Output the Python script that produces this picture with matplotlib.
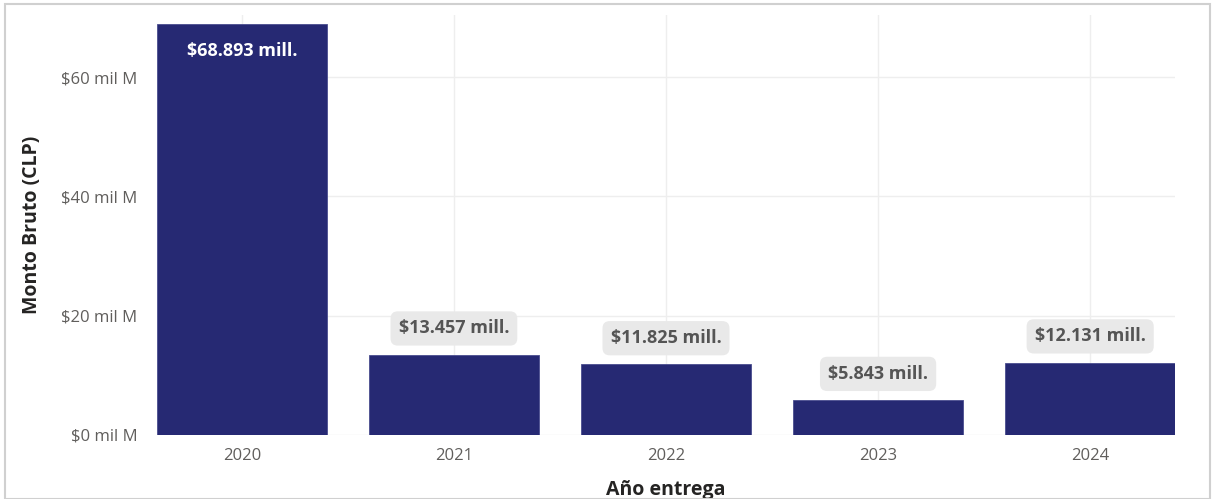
import matplotlib.pyplot as plt
from matplotlib.patches import Rectangle

# Datos
anios = ['2020', '2021', '2022', '2023', '2024']
montos = [68.893, 13.457, 11.825, 5.843, 12.131]  # miles de millones CLP
etiquetas = ['$68.893 mill.', '$13.457 mill.', '$11.825 mill.', '$5.843 mill.', '$12.131 mill.']
yticks = [0, 20, 40, 60]
ytick_labels = ['$0 mil M', '$20 mil M', '$40 mil M', '$60 mil M']

plt.rcParams['font.family'] = ['Open Sans', 'DejaVu Sans']

fig = plt.figure(figsize=(12.13, 4.99), dpi=100)
ax = fig.add_axes([157/1213, 1-435/499, (1175-157)/1213, (435-15)/499])

x = list(range(len(anios)))
ax.bar(x, montos, width=0.8, color='#262973', edgecolor='#4a4d8f', linewidth=0.6, zorder=3)

ax.set_xlim(-0.4, 4.4)
ax.set_ylim(0, 70.4)
ax.set_xticks(x)
ax.set_xticklabels(anios)
ax.set_yticks(yticks)
ax.set_yticklabels(ytick_labels)
ax.tick_params(axis='both', length=0, labelsize=12, colors='#605e5c')
ax.tick_params(axis='x', pad=9)
ax.tick_params(axis='y', pad=14)

# Grillas
ax.grid(True, color='#eeeeee', linewidth=1, zorder=0)
for s in ax.spines.values():
    s.set_visible(False)

ax.set_xlabel('Año entrega', fontsize=14, fontweight='bold', color='#252423', labelpad=12)
ax.set_ylabel('Monto Bruto (CLP)', fontsize=14, fontweight='bold', color='#252423', labelpad=14)

# Etiquetas de datos
for i, v in enumerate(montos):
    if i == 0:
        ax.text(i, v - 3.0, etiquetas[i], ha='center', va='top', fontsize=13,
                fontweight='bold', color='white', zorder=5)
    else:
        ax.text(i, v + 4.4, etiquetas[i], ha='center', va='center', fontsize=13,
                fontweight='bold', color='#555555', zorder=5,
                bbox=dict(boxstyle='round,pad=0.45,rounding_size=0.4', fc='#e9e9e9', ec='none'))

# Borde de la figura
fig.patches.append(Rectangle((5/1213, 0), 1 - 8/1213, 1 - 4/499, transform=fig.transFigure,
                             fill=False, edgecolor='#d0d0d0', linewidth=1.5))

fig.savefig('out.png', dpi=100, facecolor='white')
